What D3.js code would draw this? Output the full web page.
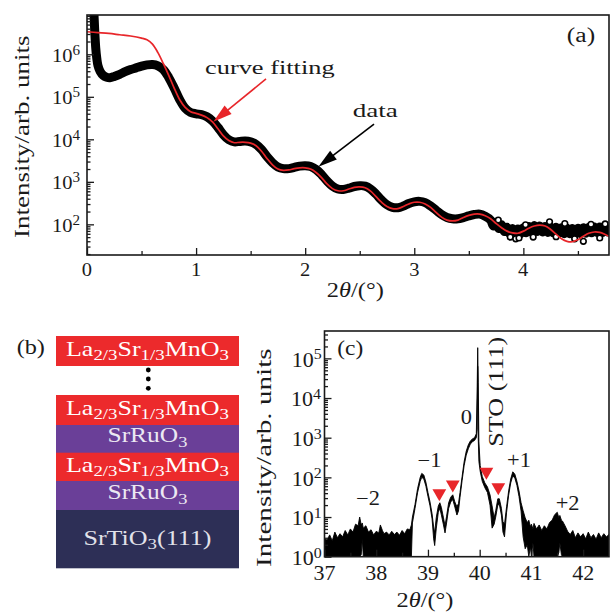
<!DOCTYPE html>
<html><head><meta charset="utf-8">
<script src="https://cdn.jsdelivr.net/npm/d3@7"></script>
<style>
html,body{margin:0;padding:0;background:#fff;}
svg{display:block;font-family:"Liberation Serif","Times New Roman",serif;}
</style></head><body>
<svg id="fig" width="610" height="613"></svg>
<script>
// ---------------- Panel (a): X-ray reflectivity ----------------
const aDataX = [0.06,0.07,0.08,0.09,0.10,0.12,0.15,0.18,0.21,0.25,0.30,0.35,0.40,0.45,0.50,0.55,0.60,0.65,0.70,0.75,0.80,0.85,0.90,0.95,1.00,1.05,1.10,1.15,1.20,1.25,1.30,1.35,1.40,1.45,1.50,1.55,1.60,1.65,1.70,1.75,1.80,1.85,1.90,1.95,2.00,2.05,2.10,2.15,2.20,2.25,2.30,2.35,2.40,2.45,2.50,2.55,2.60,2.65,2.70,2.75,2.80,2.85,2.90,2.95,3.00,3.05,3.10,3.15,3.20,3.25,3.30,3.35,3.40,3.45,3.50,3.55,3.60,3.65,3.700,3.725,3.750,3.775,3.800,3.825,3.850,3.875,3.900,3.925,3.950,3.975,4.000,4.025,4.050,4.075,4.100,4.125,4.150,4.175,4.200,4.225,4.250,4.275,4.300,4.325,4.350,4.375,4.400,4.425,4.450,4.475,4.500,4.525,4.550,4.575,4.600,4.625,4.650,4.675,4.700,4.725,4.750,4.775,4.790];
// log10(intensity) of the measured data
const aDataLogI = [7.2,6.6,6.15,5.9,5.74,5.6,5.5,5.46,5.45,5.48,5.53,5.59,5.64,5.68,5.72,5.75,5.76,5.73,5.64,5.45,5.20,4.93,4.73,4.63,4.60,4.58,4.53,4.43,4.28,4.11,3.99,3.94,3.95,3.96,3.94,3.88,3.76,3.59,3.45,3.35,3.31,3.31,3.34,3.37,3.38,3.36,3.29,3.17,3.02,2.90,2.83,2.82,2.85,2.89,2.91,2.90,2.83,2.71,2.57,2.46,2.40,2.39,2.43,2.49,2.53,2.54,2.51,2.43,2.33,2.23,2.16,2.13,2.13,2.16,2.20,2.23,2.24,2.19,2.10,1.96,2.05,1.90,1.99,1.83,1.93,1.78,1.90,1.77,1.89,1.78,1.92,1.80,1.95,1.82,1.97,1.83,1.96,1.82,1.95,1.81,1.94,1.80,1.93,1.79,1.92,1.78,1.91,1.78,1.90,1.77,1.91,1.78,1.92,1.79,1.93,1.80,1.94,1.81,1.94,1.81,1.93,1.82,1.88];
// scattered open circles of the noisy tail
const aCircX = [3.77,3.88,3.93,3.96,4.09,4.24,4.30,4.47,4.55,4.62,4.70,4.75,4.02,4.38];
const aCircLogI = [2.10,1.70,1.66,1.68,1.70,2.06,1.71,1.66,1.60,2.00,1.68,2.01,1.99,2.02];
// curve fitting
const aFitX = [0.00,0.10,0.20,0.30,0.40,0.50,0.55,0.60,0.65,0.70,0.75,0.80,0.85,0.90,0.95,1.00,1.05,1.10,1.15,1.20,1.25,1.30,1.35,1.40,1.45,1.50,1.55,1.60,1.65,1.70,1.75,1.80,1.85,1.90,1.95,2.00,2.05,2.10,2.15,2.20,2.25,2.30,2.35,2.40,2.45,2.50,2.55,2.60,2.65,2.70,2.75,2.80,2.85,2.90,2.95,3.00,3.05,3.10,3.15,3.20,3.25,3.30,3.35,3.40,3.45,3.50,3.55,3.60,3.65,3.70,3.75,3.80,3.85,3.90,3.95,4.00,4.05,4.10,4.15,4.20,4.25,4.30,4.35,4.40,4.45,4.50,4.55,4.60,4.65,4.70,4.75,4.79];
const aFitLogI = [6.53,6.51,6.49,6.46,6.43,6.38,6.34,6.24,6.04,5.78,5.50,5.20,4.93,4.75,4.65,4.61,4.57,4.51,4.41,4.25,4.08,3.97,3.92,3.93,3.93,3.91,3.85,3.72,3.55,3.40,3.30,3.27,3.28,3.31,3.33,3.33,3.30,3.22,3.10,2.95,2.84,2.79,2.79,2.83,2.87,2.88,2.86,2.78,2.65,2.52,2.42,2.37,2.37,2.42,2.48,2.52,2.52,2.48,2.40,2.28,2.17,2.10,2.08,2.10,2.16,2.21,2.24,2.24,2.20,2.13,2.02,1.92,1.84,1.80,1.79,1.84,1.91,1.96,1.98,1.96,1.88,1.77,1.66,1.60,1.59,1.64,1.72,1.79,1.82,1.81,1.76,1.71];
const aXTicks = [0,1,2,3,4];
const aXMinor = [0.5,1.5,2.5,3.5,4.5];
const aYTicks = [1e2,1e3,1e4,1e5,1e6];

// ---------------- Panel (b): layer stack ----------------
const stackLayers = [
  {parts:[["La"],["2/3",1],["Sr"],["1/3",1],["MnO"],["3",1]], color:"#ec2a2c", text:"#ffffff", w:163},
  {parts:[["La"],["2/3",1],["Sr"],["1/3",1],["MnO"],["3",1]], color:"#ec2a2c", text:"#ffffff", w:163},
  {parts:[["SrRuO"],["3",1]], color:"#6a3f98", text:"#ece8f2", w:80},
  {parts:[["La"],["2/3",1],["Sr"],["1/3",1],["MnO"],["3",1]], color:"#ec2a2c", text:"#ffffff", w:163},
  {parts:[["SrRuO"],["3",1]], color:"#6a3f98", text:"#ece8f2", w:80},
  {parts:[["SrTiO"],["3",1],["(111)"]], color:"#2d2f56", text:"#e2e2ea", w:128}
];

// ---------------- Panel (c): XRD around STO (111) ----------------
const cTheta = [37.00,37.05,37.10,37.15,37.20,37.25,37.30,37.35,37.40,37.45,37.50,37.55,37.60,37.65,37.68,37.71,37.73,37.75,37.80,37.85,37.90,37.95,38.00,38.05,38.08,38.12,38.15,38.20,38.25,38.30,38.35,38.40,38.45,38.50,38.55,38.60,38.65,38.68,
 38.70,38.75,38.80,38.85,38.88,38.92,38.96,39.00,39.04,39.08,39.11,39.13,39.16,39.20,39.23,39.26,39.30,39.33,39.36,39.40,39.44,39.48,39.52,39.56,39.59,39.62,39.66,39.70,39.74,39.78,39.82,39.86,39.90,39.935,39.952,39.962,39.972,39.985,40.01,40.05,40.10,40.15,40.20,40.24,40.28,40.31,40.35,40.38,40.42,40.45,40.48,40.52,40.56,40.60,40.64,40.68,40.72,40.76,40.80,40.84,40.88,40.92,
 40.95,40.98,41.00,41.03,41.05,41.10,41.15,41.20,41.25,41.30,41.35,41.40,41.45,41.50,41.53,41.55,41.58,41.60,41.65,41.70,41.75,41.80,41.85,41.90,41.95,42.00,42.05,42.10,42.15,42.20,42.25,42.30,42.35,42.40,42.45,42.50];
// upper / lower envelope of the (noisy) trace, log10(intensity)
const cUpperLogI = [0.45,0.42,0.55,0.40,0.62,0.48,0.58,0.50,0.66,0.55,0.70,0.62,0.82,0.78,1.00,0.80,0.85,0.72,0.78,0.62,0.68,0.55,0.64,0.60,0.80,0.66,0.58,0.62,0.55,0.64,0.56,0.62,0.54,0.66,0.58,0.70,0.68,0.80,
 1.00,1.32,1.72,2.00,2.10,2.06,1.88,1.62,1.38,1.08,0.75,0.60,0.98,1.28,1.36,1.24,0.98,0.78,1.02,1.36,1.50,1.56,1.38,1.26,1.34,1.62,2.02,2.40,2.66,2.82,2.92,2.97,3.00,3.10,4.30,5.27,4.40,2.90,2.30,2.02,1.86,1.76,1.56,1.28,0.98,1.16,1.46,1.46,1.22,0.88,0.82,1.26,1.66,1.96,2.14,2.08,1.90,1.66,1.36,1.16,0.98,0.86,
 0.92,0.76,0.82,0.70,0.84,0.70,0.80,0.66,0.78,0.70,0.86,0.92,1.06,1.12,0.98,1.04,0.92,0.90,0.78,0.64,0.56,0.66,0.48,0.60,0.50,0.58,0.45,0.62,0.48,0.56,0.44,0.60,0.48,0.58,0.50,0.56];
const cLowerLogI = [0,0,0,0,0,0,0,0,0,0,0,0,0,0,0,0.05,0.45,0,0,0,0,0,0,0,0,0,0,0,0,0,0,0,0,0,0,0,0,0,
 0.85,1.22,1.62,1.90,2.00,1.96,1.78,1.52,1.28,0.95,0.45,0.28,0.70,1.12,1.22,1.05,0.80,0.60,0.85,1.22,1.38,1.44,1.25,1.05,1.15,1.50,1.92,2.30,2.56,2.72,2.84,2.90,2.93,3.00,3.20,4.80,3.00,2.40,2.15,1.90,1.74,1.62,1.30,0.72,0.82,1.00,1.30,1.32,1.05,0.62,0.50,1.12,1.55,1.86,2.04,1.98,1.80,1.52,1.15,0.50,0.20,0.30,
 0,0.25,0,0.35,0,0,0,0,0,0,0,0,0,0,0.10,0.35,0.05,0,0,0,0,0,0,0,0,0,0,0,0,0,0,0,0,0,0,0];
const cMarkTheta = [39.22,39.48,40.13,40.36];
const cMarkLogI = [1.60,1.82,2.14,1.75];
const cOrders = [{t:"\u22122",x:37.84,l:1.30},{t:"\u22121",x:39.03,l:2.27},{t:"0",x:39.74,l:3.35},{t:"+1",x:40.76,l:2.27},{t:"+2",x:41.70,l:1.18}];
const cXTicks = [37,38,39,40,41,42];
const cXMinor = [37.5,38.5,39.5,40.5,41.5];
const cYTicks = [1e0,1e1,1e2,1e3,1e4,1e5];

// ---------------- drawing ----------------
const svg = d3.select("#fig");
const INK = "#1a1a1a", RED = "#e8262a";

function fitText(parent, o) {
  const g = parent.append("g").attr("transform", `translate(${o.x},${o.y}) rotate(${o.rotate||0})`);
  const t = g.append("text").attr("font-size", o.size).attr("fill", o.fill || INK);
  let shift = 0;
  o.parts.forEach(p => {
    const sub = p[1] === 1, sup = p[1] === 2;
    const target = sub ? (o.subDy || 4.5) : sup ? -(o.supDy || 7) : 0;
    t.append("tspan").text(p[0])
      .attr("font-size", (sub || sup) ? (o.smallSize || o.size * 0.72) : o.size)
      .attr("font-style", p[2] ? "italic" : null)
      .attr("dy", target - shift);
    shift = target;
  });
  const bb = t.node().getBBox();
  const k = o.width ? o.width / bb.width : (o.sx || 1);
  const anchor = o.anchor || "middle";
  const off = anchor === "middle" ? -(bb.x + bb.width / 2) : anchor === "end" ? -(bb.x + bb.width) : -bb.x;
  t.attr("transform", `scale(${k},1) translate(${off},0)`);
  return g;
}

function arrow(g, x1, y1, x2, y2, color) {
  const dx = x2 - x1, dy = y2 - y1, L = Math.hypot(dx, dy), ux = dx / L, uy = dy / L;
  const hl = 19, hw = 5.5;
  const bx = x2 - ux * hl, by = y2 - uy * hl;
  g.append("line").attr("x1", x1).attr("y1", y1).attr("x2", bx + ux * 2).attr("y2", by + uy * 2)
    .attr("stroke", color).attr("stroke-width", 1.6);
  g.append("path").attr("d", `M${x2},${y2}L${bx - uy * hw},${by + ux * hw}L${bx + uy * hw},${by - ux * hw}Z`).attr("fill", color);
}

function styleAxis(sel) {
  sel.select(".domain").remove();
  sel.selectAll(".tick line").attr("stroke", INK).attr("stroke-width", 1.3);
  sel.selectAll(".tick text").remove();
}

// ===== Panel (a) =====
const xA = d3.scaleLinear().domain([0, 4.785]).range([87, 609]);
const yA = d3.scaleLog().domain([19, 8.4e6]).range([255, 15]);
const gA = svg.append("g");
const defs = svg.append("defs");
defs.append("clipPath").attr("id", "clipA").append("rect")
  .attr("x", 87).attr("y", 15).attr("width", 522).attr("height", 240);
defs.append("clipPath").attr("id", "clipC").append("rect")
  .attr("x", 324.5).attr("y", 331).attr("width", 284.5).attr("height", 225.7);

const plotA = gA.append("g").attr("clip-path", "url(#clipA)");
const aData = aDataX.map((x, i) => ({x, v: Math.pow(10, aDataLogI[i])}));
plotA.append("path").datum(aData)
  .attr("d", d3.line().x(d => xA(d.x)).y(d => yA(d.v)).curve(d3.curveCatmullRom))
  .attr("fill", "none").attr("stroke", "#000").attr("stroke-width", 9)
  .attr("stroke-linejoin", "round").attr("stroke-linecap", "round");
plotA.selectAll("circle.tail").data(aCircX.map((x, i) => ({x, v: Math.pow(10, aCircLogI[i])})))
  .join("circle").attr("class", "tail").attr("cx", d => xA(d.x)).attr("cy", d => yA(d.v)).attr("r", 2.8)
  .attr("fill", "#fff").attr("stroke", "#000").attr("stroke-width", 1.6);
const aFit = aFitX.map((x, i) => ({x, v: Math.pow(10, aFitLogI[i])}));
plotA.append("path").datum(aFit)
  .attr("d", d3.line().x(d => xA(d.x)).y(d => yA(d.v)).curve(d3.curveCatmullRom))
  .attr("fill", "none").attr("stroke", RED).attr("stroke-width", 1.7);

// axes (a)
const aMinorY = yA.ticks().filter(v => !aYTicks.includes(v));
gA.append("g").attr("transform", "translate(87,0)")
  .call(d3.axisLeft(yA).tickValues(aMinorY).tickSize(-3.5).tickFormat("")).call(styleAxis);
gA.append("g").attr("transform", "translate(87,0)")
  .call(d3.axisLeft(yA).tickValues(aYTicks).tickSize(-7).tickFormat("")).call(styleAxis);
gA.append("g").attr("transform", "translate(0,255)")
  .call(d3.axisBottom(xA).tickValues(aXMinor).tickSize(-4).tickFormat("")).call(styleAxis);
gA.append("g").attr("transform", "translate(0,255)")
  .call(d3.axisBottom(xA).tickValues(aXTicks).tickSize(-7).tickFormat("")).call(styleAxis);
gA.append("rect").attr("x", 87).attr("y", 15).attr("width", 522).attr("height", 240)
  .attr("fill", "none").attr("stroke", INK).attr("stroke-width", 1.6);

aYTicks.forEach(v => fitText(gA, {x: 80, y: yA(v) + 7.4, size: 19, sx: 1.08, anchor: "end", smallSize: 14, supDy: 7,
  parts: [["10"], [String(Math.round(Math.log10(v))), 2]]}));
aXTicks.forEach(v => fitText(gA, {x: xA(v), y: 276, size: 19, sx: 1.08, parts: [[String(v)]]}));
fitText(gA, {x: 355.3, y: 297, size: 20, width: 57, parts: [["2"], ["\u03B8", 0, 1], ["/(\u00B0)"]]});
fitText(gA, {x: 28.5, y: 136.5, rotate: -90, size: 20, width: 203, parts: [["Intensity/arb. units"]]});
fitText(gA, {x: 581, y: 41.5, size: 20, width: 28.3, parts: [["(a)"]]});
fitText(gA, {x: 270, y: 74, size: 19.5, width: 130, parts: [["curve fitting"]]});
fitText(gA, {x: 375.5, y: 116.5, size: 19.5, width: 45.7, parts: [["data"]]});
arrow(gA, xA(1.641), yA(Math.pow(10, 5.419)), xA(1.158), yA(Math.pow(10, 4.414)), RED);
arrow(gA, xA(2.631), yA(Math.pow(10, 4.36)), xA(2.121), yA(Math.pow(10, 3.355)), "#000");

// ===== Panel (b) =====
const gB = svg.append("g");
const bX0 = 56, bW = 183;
const bTops = [336, 395, 425, 452.7, 481, 510];
const bBots = [365.7, 425, 452.7, 481, 510, 568];
const bBase = [355.5, 414.7, 442.3, 471.5, 499, 544.5];
stackLayers.forEach((L, i) => {
  gB.append("rect").attr("x", bX0).attr("y", bTops[i]).attr("width", bW).attr("height", bBots[i] - bTops[i] + 0.3)
    .attr("fill", L.color);
  fitText(gB, {x: bX0 + bW / 2, y: bBase[i], size: 20, width: L.w, fill: L.text, smallSize: 14.5, subDy: 4.5, parts: L.parts});
});
[370, 379, 388.3].forEach(y => gB.append("circle").attr("cx", 148.3).attr("cy", y).attr("r", 2.4).attr("fill", "#000"));
fitText(gB, {x: 30.8, y: 354, size: 20, width: 28.3, parts: [["(b)"]]});

// ===== Panel (c) =====
const xC = d3.scaleLinear().domain([37, 42.5]).range([324.5, 609]);
const yC = d3.scaleLog().domain([1, Math.pow(10, 5.69)]).range([556.7, 331]);
const gC = svg.append("g");
const plotC = gC.append("g").attr("clip-path", "url(#clipC)");
const cData = cTheta.map((x, i) => ({x, hi: Math.pow(10, cUpperLogI[i]), lo: Math.pow(10, cLowerLogI[i])}));
plotC.append("path").datum(cData)
  .attr("d", d3.area().x(d => xC(d.x)).y0(d => yC(d.lo)).y1(d => yC(d.hi)))
  .attr("fill", "#000").attr("stroke", "#000").attr("stroke-width", 0.9).attr("stroke-linejoin", "round");
const tri = d3.symbol().type(d3.symbolTriangle).size(82);
gC.selectAll("path.mark").data(cMarkTheta.map((x, i) => ({x, v: Math.pow(10, cMarkLogI[i])})))
  .join("path").attr("class", "mark").attr("d", tri)
  .attr("transform", d => `translate(${xC(d.x)},${yC(d.v)}) rotate(180)`).attr("fill", RED);

const cMinorY = yC.ticks().filter(v => !cYTicks.includes(v));
gC.append("g").attr("transform", "translate(324.5,0)")
  .call(d3.axisLeft(yC).tickValues(cMinorY).tickSize(-3.5).tickFormat("")).call(styleAxis);
gC.append("g").attr("transform", "translate(324.5,0)")
  .call(d3.axisLeft(yC).tickValues(cYTicks).tickSize(-7).tickFormat("")).call(styleAxis);
gC.append("g").attr("transform", "translate(0,556.7)")
  .call(d3.axisBottom(xC).tickValues(cXMinor).tickSize(-4).tickFormat("")).call(styleAxis);
gC.append("g").attr("transform", "translate(0,556.7)")
  .call(d3.axisBottom(xC).tickValues(cXTicks).tickSize(-7).tickFormat("")).call(styleAxis);
gC.append("rect").attr("x", 324.5).attr("y", 331).attr("width", 284.5).attr("height", 225.7)
  .attr("fill", "none").attr("stroke", INK).attr("stroke-width", 1.6);

cYTicks.forEach(v => fitText(gC, {x: 321.7, y: yC(v) + 8.3, size: 20, sx: 1.1, anchor: "end", smallSize: 14.5, supDy: 7.5,
  parts: [["10"], [String(Math.round(Math.log10(v))), 2]]}));
cXTicks.forEach(v => fitText(gC, {x: xC(v), y: 580, size: 20, sx: 1.1, parts: [[String(v)]]}));
cOrders.forEach(o => fitText(gC, {x: xC(o.x), y: yC(Math.pow(10, o.l)), size: 20, sx: 1.12, parts: [[o.t]]}));
fitText(gC, {x: 425, y: 607, size: 20, width: 57, parts: [["2"], ["\u03B8", 0, 1], ["/(\u00B0)"]]});
fitText(gC, {x: 270.5, y: 457.5, rotate: -90, size: 20, width: 219, parts: [["Intensity/arb. units"]]});
fitText(gC, {x: 502.5, y: 391.7, rotate: -90, size: 20, width: 110, parts: [["STO (111)"]]});
fitText(gC, {x: 350.3, y: 355, size: 20, width: 26, parts: [["(c)"]]});
</script></body></html>
